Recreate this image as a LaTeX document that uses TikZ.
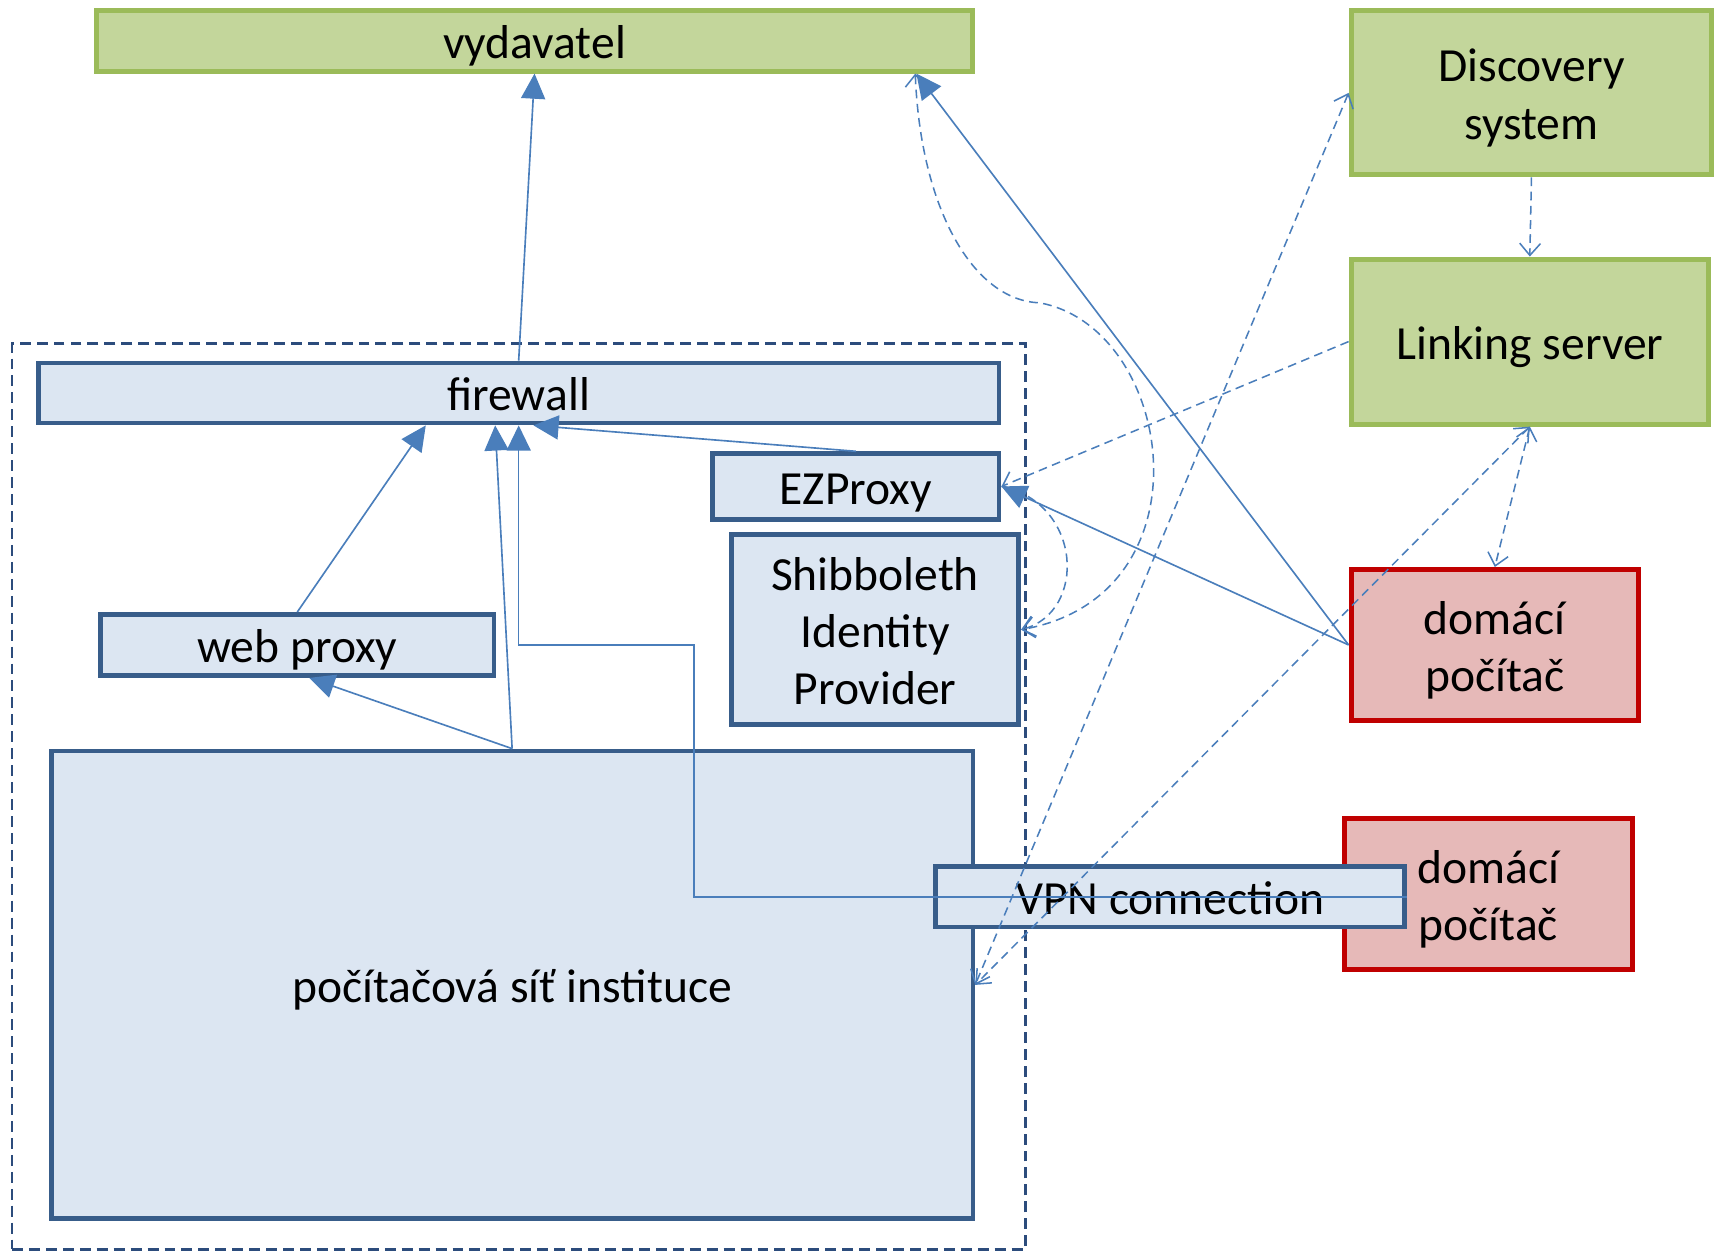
\documentclass[tikz,border=0pt]{standalone}
\usepackage{fontspec}
\setmainfont{Carlito}
\usetikzlibrary{arrows.meta}
\definecolor{gfill}{HTML}{C3D69B}
\definecolor{gline}{HTML}{9BBB59}
\definecolor{bfill}{HTML}{DCE6F2}
\definecolor{bline}{HTML}{385D8A}
\definecolor{rfill}{HTML}{E6B9B8}
\definecolor{rline}{HTML}{C00000}
\definecolor{conn}{HTML}{4A7EBB}
\definecolor{contc}{HTML}{2C4C7C}
\newcommand\mystrut{\rule[-10pt]{0pt}{52.5pt}}
\begin{document}
\begin{tikzpicture}[x=1pt,y=-1pt,
  obarb/.tip={Straight Barb[length=11pt,width=19pt]},
  ftri/.tip={Triangle[length=23pt,width=22pt]},
  box/.style={draw, rectangle, inner sep=0pt, align=center,
    font=\fontsize{43.5}{52.5}\selectfont, line width=4.3pt},
  greenbox/.style={box, fill=gfill, draw=gline, line width=4.6pt},
  bluebox/.style={box, fill=bfill, draw=bline},
  redbox/.style={box, fill=rfill, draw=rline, line width=4.6pt},
  solidarrow/.style={draw=conn, line width=1.5pt, -ftri},
  dasharr/.style={draw=conn, line width=1.4pt, dash pattern=on 8pt off 5pt},
]
\useasboundingbox (0,0) rectangle (1568,1145);

% container
\node[draw=contc, line width=2.4pt, dash pattern=on 10pt off 5.5pt,
  minimum width=927pt, minimum height=829pt, inner sep=0pt] (net) at (474.5,728.5) {};

% boxes
\node[greenbox, minimum width=802pt, minimum height=55pt] (vyd) at (489,37.5) {vydavatel\mystrut};
\node[greenbox, minimum width=330pt, minimum height=150pt] (disc) at (1401,85) {Discovery\mystrut\\system\mystrut};
\node[greenbox, minimum width=327pt, minimum height=151pt] (link) at (1399.5,312.5) {Linking server\mystrut};

\node[bluebox, minimum width=879pt, minimum height=55pt] (fw) at (474.5,359.5) {firewall\mystrut};
\node[bluebox, minimum width=262pt, minimum height=60pt] (ez) at (783,445) {EZProxy\mystrut};
\node[bluebox, minimum width=263pt, minimum height=174pt] (shib) at (800.5,576) {Shibboleth\mystrut\\Identity\mystrut\\Provider\mystrut};
\node[bluebox, minimum width=360pt, minimum height=56pt] (wp) at (272,590) {web proxy\mystrut};
\node[bluebox, minimum width=843pt, minimum height=428pt] (inst) at (468.5,901) {počítačová síť instituce\mystrut};

\node[redbox, minimum width=263pt, minimum height=138pt] (dom1) at (1367.5,590) {domácí\mystrut\\počítač\mystrut};
\node[redbox, minimum width=263pt, minimum height=138pt] (dom2) at (1361.5,818) {domácí\mystrut\\počítač\mystrut};

\node[bluebox, minimum width=429pt, minimum height=55pt] (vpn) at (1070.5,820.5) {VPN connection\mystrut};

% solid connectors
\draw[solidarrow] (fw.north) -- (vyd.south);
\draw[solidarrow] (wp.north) -- ([xshift=-85pt]fw.south);
\draw[solidarrow] (inst.north) -- ([xshift=11pt]wp.south);
\draw[solidarrow] (inst.north) -- ([xshift=-21.5pt]fw.south);
\draw[solidarrow, line width=1.2pt] (vpn.east) -- (635,820.5) -- (635,590) -- (fw.south |- wp.east) -- (fw.south);
\draw[solidarrow] (ez.north) -- ([xshift=13.5pt]fw.south);
\draw[solidarrow] (dom1.west) -- ([xshift=-54pt]vyd.south east);
\draw[solidarrow] (dom1.west) -- (ez.east);

% dashed connectors
\draw[dasharr, -obarb] (link.west) -- (ez.east);
\draw[dasharr, -obarb] (disc.south) -- (link.north);
\draw[dasharr, obarb-obarb] (link.south) -- (dom1.north);
\draw[dasharr, obarb-obarb] (link.south) -- (inst.east);
\draw[dasharr, obarb-obarb] (disc.west) -- (inst.east);
\draw[dasharr, obarb-obarb] ([xshift=-55pt]vyd.south east) .. controls (842,190) and (890,275) .. (951,277)
   .. controls (1075,300) and (1110,545) .. (shib.east);
\draw[dasharr, -obarb] (ez.east) .. controls (990,460) and (995,560) .. (shib.east);
\end{tikzpicture}
\end{document}
